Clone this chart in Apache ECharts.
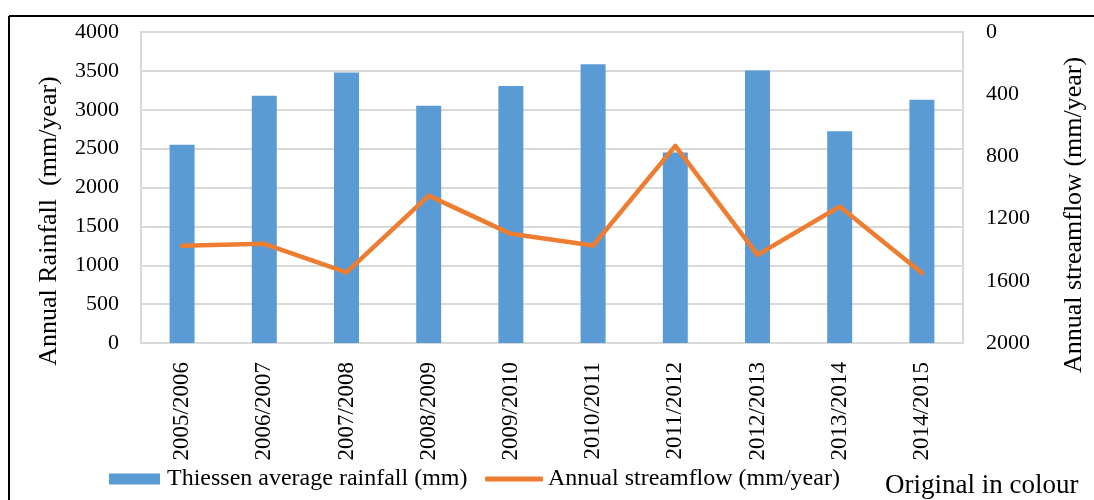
<!DOCTYPE html>
<html>
<head>
<meta charset="utf-8">
<title>Annual rainfall and streamflow</title>
<script src="https://cdn.jsdelivr.net/npm/echarts@6/dist/echarts.min.js"></script>
<style>
  html, body { margin: 0; padding: 0; background: #ffffff; }
  #chart { width: 1094px; height: 500px; }
</style>
</head>
<body>
<div id="chart"></div>
<script>
// Hydrological years
const years = ['2005/2006', '2006/2007', '2007/2008', '2008/2009', '2009/2010',
               '2010/2011', '2011/2012', '2012/2013', '2013/2014', '2014/2015'];

// Thiessen average rainfall (mm)
const rainfall = [2550, 3180, 3480, 3050, 3305, 3585, 2450, 3505, 2725, 3130];

// Annual streamflow (mm/year), plotted on an inverted right axis
const streamflow = [1375, 1362, 1546, 1052, 1298, 1373, 732, 1433, 1122, 1550];

const rainName = 'Thiessen average rainfall (mm)';
const flowName = 'Annual streamflow (mm/year)';

const serif = '"Liberation Serif", "Times New Roman", serif';
const gridColor = '#d9d9d9';
const plain = v => String(v);

const chart = echarts.init(document.getElementById('chart'), null, { renderer: 'canvas' });

chart.setOption({
  backgroundColor: '#ffffff',
  animation: false,
  textStyle: { fontFamily: serif, color: '#000000' },
  grid: {
    left: 141, right: 131, top: 32, bottom: 157,
    show: true, borderColor: gridColor, borderWidth: 2, backgroundColor: 'transparent'
  },
  legend: [
    {
      data: [{ name: rainName, icon: 'rect' }],
      left: 104, top: 462,
      itemWidth: 51, itemHeight: 11,
      textStyle: { fontFamily: serif, fontSize: 24, color: '#000000', padding: [0, 0, 0, 2] }
    },
    {
      data: [{ name: flowName, icon: 'roundRect' }],
      left: 480, top: 462,
      itemWidth: 58, itemHeight: 5,
      itemStyle: { color: '#ed7d31', borderWidth: 0 },
      textStyle: { fontFamily: serif, fontSize: 24, color: '#000000', padding: [0, 0, 0, 0] }
    }
  ],
  xAxis: {
    type: 'category',
    data: years,
    axisLine: { show: true, lineStyle: { color: gridColor, width: 2 } },
    axisTick: { show: false },
    axisLabel: {
      rotate: 90, margin: 19, interval: 0,
      fontFamily: serif, fontSize: 23, color: '#000000'
    }
  },
  yAxis: [
    {
      type: 'value', min: 0, max: 4000, interval: 500,
      axisLine: { show: false }, axisTick: { show: false },
      axisLabel: { margin: 22, fontFamily: serif, fontSize: 22, color: '#000000', formatter: plain },
      splitLine: { show: true, lineStyle: { color: gridColor, width: 2 } }
    },
    {
      type: 'value', min: 0, max: 2000, interval: 400, inverse: true,
      position: 'right',
      axisLine: { show: false }, axisTick: { show: false },
      axisLabel: { margin: 23, fontFamily: serif, fontSize: 22, color: '#000000', formatter: plain },
      splitLine: { show: false }
    }
  ],
  series: [
    {
      name: rainName,
      type: 'bar',
      data: rainfall,
      yAxisIndex: 0,
      barWidth: 25,
      itemStyle: { color: '#5b9bd5' },
      z: 2
    },
    {
      name: flowName,
      type: 'line',
      data: streamflow,
      yAxisIndex: 1,
      symbol: 'none',
      lineStyle: { color: '#ed7d31', width: 4.5, cap: 'round', join: 'round' },
      itemStyle: { color: '#ed7d31' },
      z: 3
    }
  ],
  graphic: [
    // outer frame (top and left edges)
    { type: 'line', shape: { x1: 9, y1: 16, x2: 1094, y2: 16 }, style: { stroke: '#000000', lineWidth: 2 }, silent: true },
    { type: 'line', shape: { x1: 9, y1: 16, x2: 9, y2: 500 }, style: { stroke: '#000000', lineWidth: 2 }, silent: true },
    // axis titles
    {
      type: 'text', x: 49, y: 221, rotation: Math.PI / 2,
      style: { text: 'Annual Rainfall  (mm/year)', font: '26px ' + serif, fill: '#000000',
               textAlign: 'center', textVerticalAlign: 'middle' }
    },
    {
      type: 'text', x: 1074, y: 215, rotation: Math.PI / 2,
      style: { text: 'Annual streamflow (mm/year)', font: '26px ' + serif, fill: '#000000',
               textAlign: 'center', textVerticalAlign: 'middle' }
    },
    {
      type: 'text', x: 885, y: 486,
      style: { text: 'Original in colour', font: '27px ' + serif, fill: '#000000',
               textAlign: 'left', textVerticalAlign: 'middle' }
    }
  ]
});
</script>
</body>
</html>
